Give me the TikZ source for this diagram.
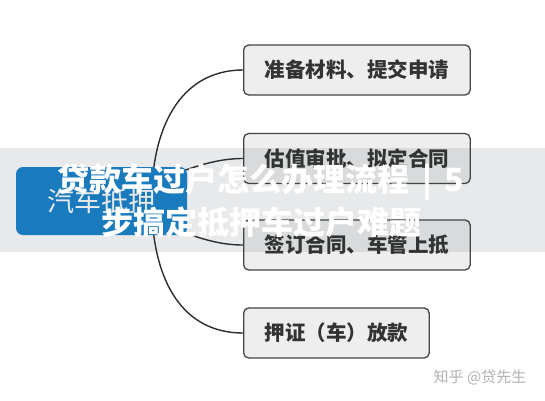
\documentclass[tikz,border=0pt]{standalone}
\usepackage{fontspec}
\setmainfont{Noto Sans CJK SC}
\newfontfamily\heavyfont{Noto Sans CJK SC Black}
\usepackage{tikz}
\usetikzlibrary{backgrounds}

\begin{document}
\begin{tikzpicture}[x=1pt,y=-1pt,
  root/.style={fill=rootColor, rounded corners=7pt, minimum width=171pt, minimum height=68pt, text=white, font=\fontsize{27}{30}\selectfont},
  leaf/.style={draw=leafLine, fill=leafFill, line width=1.3pt, rounded corners=5pt, anchor=west, minimum height=50pt, inner xsep=21pt, text=leafText, font=\fontsize{20.5}{24}\selectfont\bfseries},
  link/.style={draw=linkColor, line width=1.4pt},
  title/.style={align=center, text=white, font=\fontsize{32}{43}\selectfont\heavyfont},
  wmark/.style={text=black!30, font=\fontsize{15}{18}\selectfont}]
\definecolor{rootColor}{RGB}{22,130,206}
\definecolor{leafFill}{RGB}{238,238,238}
\definecolor{leafLine}{RGB}{68,68,68}
\definecolor{leafText}{RGB}{51,51,51}
\definecolor{linkColor}{RGB}{45,45,45}
\definecolor{bandColor}{RGB}{50,60,65}
\useasboundingbox (0,0) rectangle (545,400);
% mind map
\node[root] (root) at (101.5,201) {汽车抵押};
\foreach \i/\y/\t in {1/70/准备材料、提交申请,2/158.5/估值审批、拟定合同,3/245/签订合同、车管上抵,4/333/押证（车）放款}
  \node[leaf] (s\i) at (243,\y) {\t};
\begin{scope}[on background layer]
  \fill[white] (0,0) rectangle (545,400);
  \draw[link] ([xshift=50pt]root.center) .. controls (152,120) and (185,70) .. (s1.west);
  \draw[link] (root.center) .. controls (175,175) and (205,158.5) .. (s2.west);
  \draw[link] (root.center) .. controls (175,228) and (205,245) .. (s3.west);
  \draw[link] ([xshift=50pt]root.center) .. controls (152,285) and (185,333) .. (s4.west);
\end{scope}
% banner over the picture
\fill[bandColor, fill opacity=0.11] (0,148) rectangle (545,252);
\node[title] (head) at (261,201) {贷款车过户怎么办理流程 \,|\, 5\\步搞定抵押车过户难题};
\node[wmark] (wm) at (480,377) {知乎 @贷先生};
\end{tikzpicture}
\end{document}
